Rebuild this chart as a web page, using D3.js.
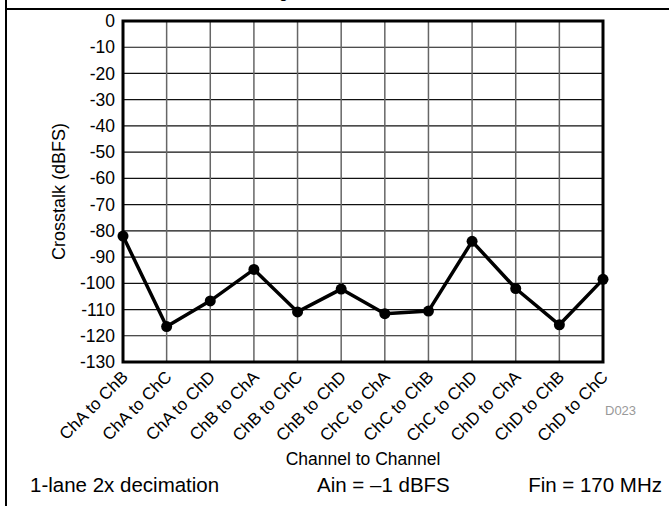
<!DOCTYPE html>
<html><head><meta charset="utf-8">
<script src="https://cdn.jsdelivr.net/npm/d3@7"></script>
<style>body{margin:0;background:#fff;}svg{display:block;font-family:"Liberation Sans",Arial,sans-serif;}</style>
</head><body>
<script>
const categories = ["ChA to ChB","ChA to ChC","ChA to ChD","ChB to ChA","ChB to ChC","ChB to ChD","ChC to ChA","ChC to ChB","ChC to ChD","ChD to ChA","ChD to ChB","ChD to ChC"];
const crosstalk = [-82, -116.5, -106.7, -94.7, -110.9, -102.2, -111.6, -110.6, -84, -102, -115.8, -98.5];
const yTicks = [0,-10,-20,-30,-40,-50,-60,-70,-80,-90,-100,-110,-120,-130];
const footer = ["1-lane 2x decimation","Ain = \u20131 dBFS","Fin = 170 MHz"];

const W=669,H=506;
const svg=d3.select("body").append("svg").attr("width",W).attr("height",H);
const m={l:123,r:603,t:21,b:362};
const x=d3.scaleLinear().domain([0,categories.length-1]).range([m.l,m.r]);
const y=d3.scaleLinear().domain([0,-130]).range([m.t,m.b]);

// outer frame
svg.append("line").attr("x1",6).attr("x2",6).attr("y1",0).attr("y2",H).attr("stroke","#000").attr("stroke-width",2);
svg.append("line").attr("x1",6).attr("x2",W).attr("y1",9).attr("y2",9).attr("stroke","#000").attr("stroke-width",2);
svg.append("text").attr("x",279).attr("y",-2).attr("font-size",16).text("g");

// grid
svg.append("g").selectAll("line").data(yTicks).join("line")
  .attr("x1",m.l).attr("x2",m.r).attr("y1",d=>y(d)).attr("y2",d=>y(d))
  .attr("stroke","#111").attr("stroke-width",1.2);
svg.append("g").selectAll("line").data(d3.range(categories.length)).join("line")
  .attr("x1",d=>x(d)).attr("x2",d=>x(d)).attr("y1",m.t).attr("y2",m.b)
  .attr("stroke","#666").attr("stroke-width",1.5);
svg.append("rect").attr("x",m.l).attr("y",m.t).attr("width",m.r-m.l).attr("height",m.b-m.t)
  .attr("fill","none").attr("stroke","#000").attr("stroke-width",3);

// y axis labels
const yAxis=d3.axisLeft(y).tickValues(yTicks).tickSize(0).tickPadding(8).tickFormat(d=>String(d));
const ga=svg.append("g").attr("transform",`translate(${m.l},0)`).call(yAxis);
ga.select(".domain").remove();
ga.selectAll("text").attr("font-size",17.5).attr("fill","#000").attr("font-family","Liberation Sans, Arial, sans-serif");

svg.append("text").attr("transform",`translate(65,${(m.t+m.b)/2}) rotate(-90)`)
  .attr("text-anchor","middle").attr("font-size",18).text("Crosstalk (dBFS)");

// x labels
svg.append("g").selectAll("text").data(categories).join("text")
  .attr("transform",(d,i)=>`translate(${x(i)+6},${m.b+16}) rotate(-45)`)
  .attr("text-anchor","end").attr("font-size",17).text(d=>d);

svg.append("text").attr("x",(m.l+m.r)/2).attr("y",465).attr("text-anchor","middle").attr("font-size",17.5).text("Channel to Channel");
svg.append("text").attr("x",605).attr("y",415).attr("font-size",13).attr("fill","#999").text("D023");

// series
const line=d3.line().x((d,i)=>x(i)).y(d=>y(d));
svg.append("path").datum(crosstalk).attr("d",line).attr("fill","none").attr("stroke","#000").attr("stroke-width",3.5).attr("stroke-linejoin","miter");
svg.append("g").selectAll("circle").data(crosstalk).join("circle")
  .attr("cx",(d,i)=>x(i)).attr("cy",d=>y(d)).attr("r",5.5).attr("fill","#000");

// footer
svg.append("text").attr("x",30).attr("y",492).attr("font-size",20.5).text(footer[0]);
svg.append("text").attr("x",317).attr("y",492).attr("font-size",20.5).text(footer[1]);
svg.append("text").attr("x",662).attr("y",492).attr("text-anchor","end").attr("font-size",20.5).text(footer[2]);
</script>
</body></html>
